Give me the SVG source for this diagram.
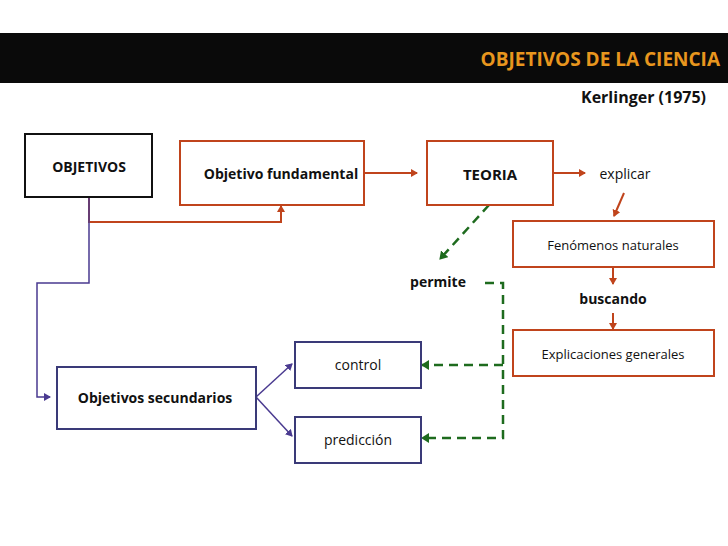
<svg xmlns="http://www.w3.org/2000/svg" width="728" height="546" viewBox="0 0 728 546">
<style>
text{font-family:"Open Sans","DejaVu Sans",sans-serif;font-size:14px;fill:#111;text-anchor:middle}
.b{font-weight:bold}
.r{fill:#fff;stroke:#c0441c;stroke-width:2}
.p{fill:#fff;stroke:#3a3a78;stroke-width:2}
.lr{fill:none;stroke:#c0441c;stroke-width:2}
.lp{fill:none;stroke:#4a3a90;stroke-width:1.5}
.lg{fill:none;stroke:#1e6b1e;stroke-width:2.5;stroke-dasharray:9,6}
</style>
<defs>
<marker id="ar" markerWidth="8" markerHeight="8" refX="6" refY="4" orient="auto" markerUnits="userSpaceOnUse"><path d="M0,0 L7,4 L0,8z" fill="#c0441c"/></marker>
<marker id="ap" markerWidth="8" markerHeight="8" refX="6" refY="4" orient="auto" markerUnits="userSpaceOnUse"><path d="M0,0 L7,4 L0,8z" fill="#4a3a90"/></marker>
<marker id="ag" markerWidth="10" markerHeight="10" refX="7" refY="5" orient="auto" markerUnits="userSpaceOnUse"><path d="M0,0 L8,5 L0,10z" fill="#1e6b1e"/></marker>
</defs>
<rect x="0" y="33" width="728" height="50" fill="#0a0a0a"/>
<text x="720" y="66" class="b" style="font-size:19px;fill:#e8961e;text-anchor:end">OBJETIVOS DE LA CIENCIA</text>
<text x="706" y="103" class="b" style="font-size:16px;text-anchor:end">Kerlinger (1975)</text>
<g id="connectors">
<path class="lr" d="M364,173 H417" marker-end="url(#ar)"/>
<path class="lr" d="M89,197 V222 H281 V206" marker-end="url(#ar)"/>
<path class="lr" d="M553,173 H585" marker-end="url(#ar)"/>
<path class="lr" d="M624,193 L614,216" marker-end="url(#ar)"/>
<path class="lr" d="M613,268 V284" marker-end="url(#ar)"/>
<path class="lr" d="M613,313 V329" marker-end="url(#ar)"/>
<path class="lp" d="M89,197 V283 H37 V397 H50" marker-end="url(#ap)"/>
<path class="lp" d="M256,397 L292,364" marker-end="url(#ap)"/>
<path class="lp" d="M256,397 L292,436" marker-end="url(#ap)"/>
<path class="lg" d="M489,205 L440,259" marker-end="url(#ag)"/>
<path class="lg" d="M485,283 H503 V438 H422" marker-end="url(#ag)"/>
<path class="lg" d="M503,365 H422" marker-end="url(#ag)"/>
</g>
<g id="objetivos"><rect x="25" y="134" width="127" height="63" fill="#fff" stroke="#111" stroke-width="2"/><text x="89" y="172" class="b">OBJETIVOS</text></g>
<g id="fundamental"><rect class="r" x="180" y="141" width="184" height="64"/><text x="281" y="179" class="b">Objetivo fundamental</text></g>
<g id="teoria"><rect class="r" x="427" y="141" width="126" height="64"/><text x="490" y="180" class="b" style="font-size:15px">TEORIA</text></g>
<g id="explicar"><text x="625" y="179">explicar</text></g>
<g id="fenomenos"><rect class="r" x="513" y="221" width="201" height="46"/><text x="613" y="250" style="font-size:13px">Fenómenos naturales</text></g>
<g id="buscando"><text x="613" y="304" class="b">buscando</text></g>
<g id="explicaciones"><rect class="r" x="513" y="330" width="201" height="46"/><text x="613" y="359" style="font-size:13px">Explicaciones generales</text></g>
<g id="permite"><text x="438" y="287" class="b">permite</text></g>
<g id="secundarios"><rect x="57" y="367" width="199" height="62" fill="#fff" stroke="#3a3a78" stroke-width="2"/><text x="155" y="403" class="b">Objetivos secundarios</text></g>
<g id="control"><rect class="p" x="295" y="342" width="126" height="46"/><text x="358" y="370">control</text></g>
<g id="prediccion"><rect class="p" x="295" y="417" width="126" height="46"/><text x="358" y="445">predicción</text></g>
</svg>
